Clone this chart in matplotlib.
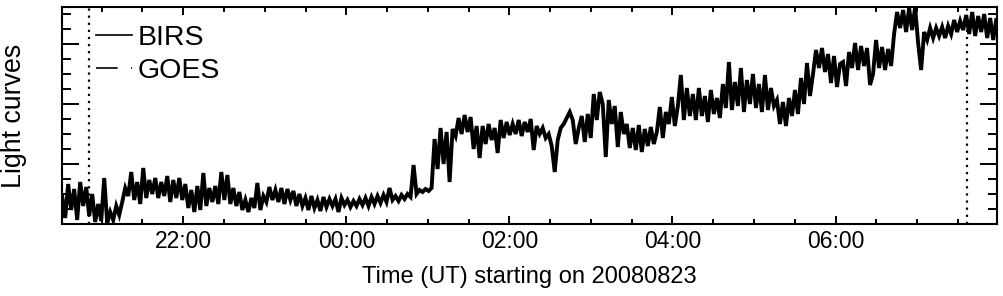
import numpy as np
import matplotlib
matplotlib.use("Agg")
import matplotlib.pyplot as plt
from matplotlib.lines import Line2D
from matplotlib.ticker import MultipleLocator, FuncFormatter, NullFormatter

plt.rcParams['font.family'] = ['Liberation Sans', 'DejaVu Sans']

# ---- data ----
# BIRS light curve (arbitrary units), regular cadence starting 20:31 UT on 2008-08-22
start_hour = 20.515          # hours (UT) on 20080822
cadence_min = 2.21           # sampling cadence in minutes
birs = [
    28, 6, 40, 14, 35, 4, 42, 18, 37, 8,
    30, 2, 20, 3, 46, 1, 12, 4, 18, 9,
    22, 36, 28, 52, 24, 42, 20, 56, 26, 44,
    30, 46, 26, 42, 28, 48, 22, 44, 26, 46,
    24, 40, 16, 34, 12, 38, 14, 51, 18, 36,
    22, 38, 20, 52, 24, 49, 20, 36, 18, 32,
    14, 24, 12, 26, 16, 41, 14, 28, 22, 37,
    24, 34, 22, 36, 20, 35, 24, 33, 18, 30,
    18, 26, 14, 28, 16, 24, 13, 27, 17, 25,
    18, 25, 12, 26, 19, 24, 17, 23, 18, 25,
    19, 26, 18, 27, 20, 28, 21, 29, 22, 36,
    24, 28, 23, 29, 25, 30, 27, 59, 30, 34,
    32, 35, 33, 36, 85, 55, 96, 60, 92, 42,
    95, 88, 106, 90, 109, 92, 107, 75, 98, 66,
    98, 80, 100, 84, 96, 71, 104, 86, 102, 89,
    100, 90, 104, 88, 102, 92, 105, 74, 98, 90,
    96, 86, 90, 78, 52, 84, 96, 100, 106, 112,
    104, 80, 96, 108, 82, 110, 86, 130, 104, 132,
    120, 67, 124, 100, 118, 77, 112, 90, 100, 76,
    96, 74, 99, 72, 95, 78, 97, 80, 92, 117,
    86, 112, 100, 127, 98, 118, 149, 104, 136, 108,
    130, 104, 136, 108, 128, 102, 134, 110, 126, 106,
    140, 116, 162, 114, 142, 118, 156, 112, 144, 120,
    150, 116, 140, 112, 149, 114, 136, 118, 124, 100,
    122, 98, 126, 108, 134, 110, 146, 120, 161, 128,
    150, 174, 156, 176, 152, 170, 141, 168, 137, 160,
    162, 138, 172, 156, 181, 154, 178, 158, 176, 139,
    150, 184, 156, 177, 154, 175, 158, 190, 212, 196,
    214, 192, 216, 194, 217, 181, 154, 192, 184, 196,
    186, 196, 188, 197, 186, 198, 190, 204, 192, 203,
    194, 209, 190, 212, 188, 208, 192, 210, 186, 206, 184, 204,
]
marker_times = [20.845, 31.615]   # dotted vertical lines (hours UT)
x_range = (20.513, 31.98)
y_range = (0, 217)
legend_labels = ['BIRS', 'GOES']
xlabel = 'Time (UT) starting on 20080823'
ylabel = 'Light curves'

t = start_hour + np.arange(len(birs)) * cadence_min / 60.0

# ---- figure ----
fig = plt.figure(figsize=(10.04, 2.96), dpi=100)
ax = fig.add_axes([62/1004, 72/296, 935/1004, 217/296])

ax.plot(t, birs, color='black', lw=2.8, solid_joinstyle='miter')
for mt in marker_times:
    ax.axvline(mt, color='black', lw=1.6, linestyle=(0, (1, 2.2)))

ax.set_xlim(*x_range)
ax.set_ylim(*y_range)

ax.xaxis.set_major_locator(MultipleLocator(2))
ax.xaxis.set_minor_locator(MultipleLocator(0.5))
ax.xaxis.set_major_formatter(FuncFormatter(lambda v, p: f"{int(round(v)) % 24:02d}:00"))
ax.yaxis.set_major_locator(MultipleLocator(60))
ax.yaxis.set_minor_locator(MultipleLocator(15))
ax.yaxis.set_major_formatter(NullFormatter())

ax.tick_params(axis='both', which='both', direction='in', top=True, right=True,
               width=1.4, colors='black')
ax.tick_params(axis='x', which='major', length=5.5, labelsize=16.5, pad=4)
ax.tick_params(axis='x', which='minor', length=3.5)
ax.tick_params(axis='y', which='major', length=12.5)
ax.tick_params(axis='y', which='minor', length=6.5)
for s in ax.spines.values():
    s.set_linewidth(1.5)

ax.set_xlabel(xlabel, fontsize=17, labelpad=10)
ax.set_ylabel(ylabel, fontsize=19.3)
ax.yaxis.set_label_coords(-(62-27)/935, 0.5)

handles = [Line2D([], [], color='black', lw=1.2),
           Line2D([], [], color='black', lw=1.2, dashes=(13, 8, 1.8, 20))]
ax.legend(handles, legend_labels, loc='upper left', bbox_to_anchor=(0.0364, 0.915),
          frameon=False, fontsize=20.5, handlelength=1.26, handletextpad=0.21,
          labelspacing=0.22, borderpad=0, borderaxespad=0)

fig.savefig('out.png', dpi=100)
